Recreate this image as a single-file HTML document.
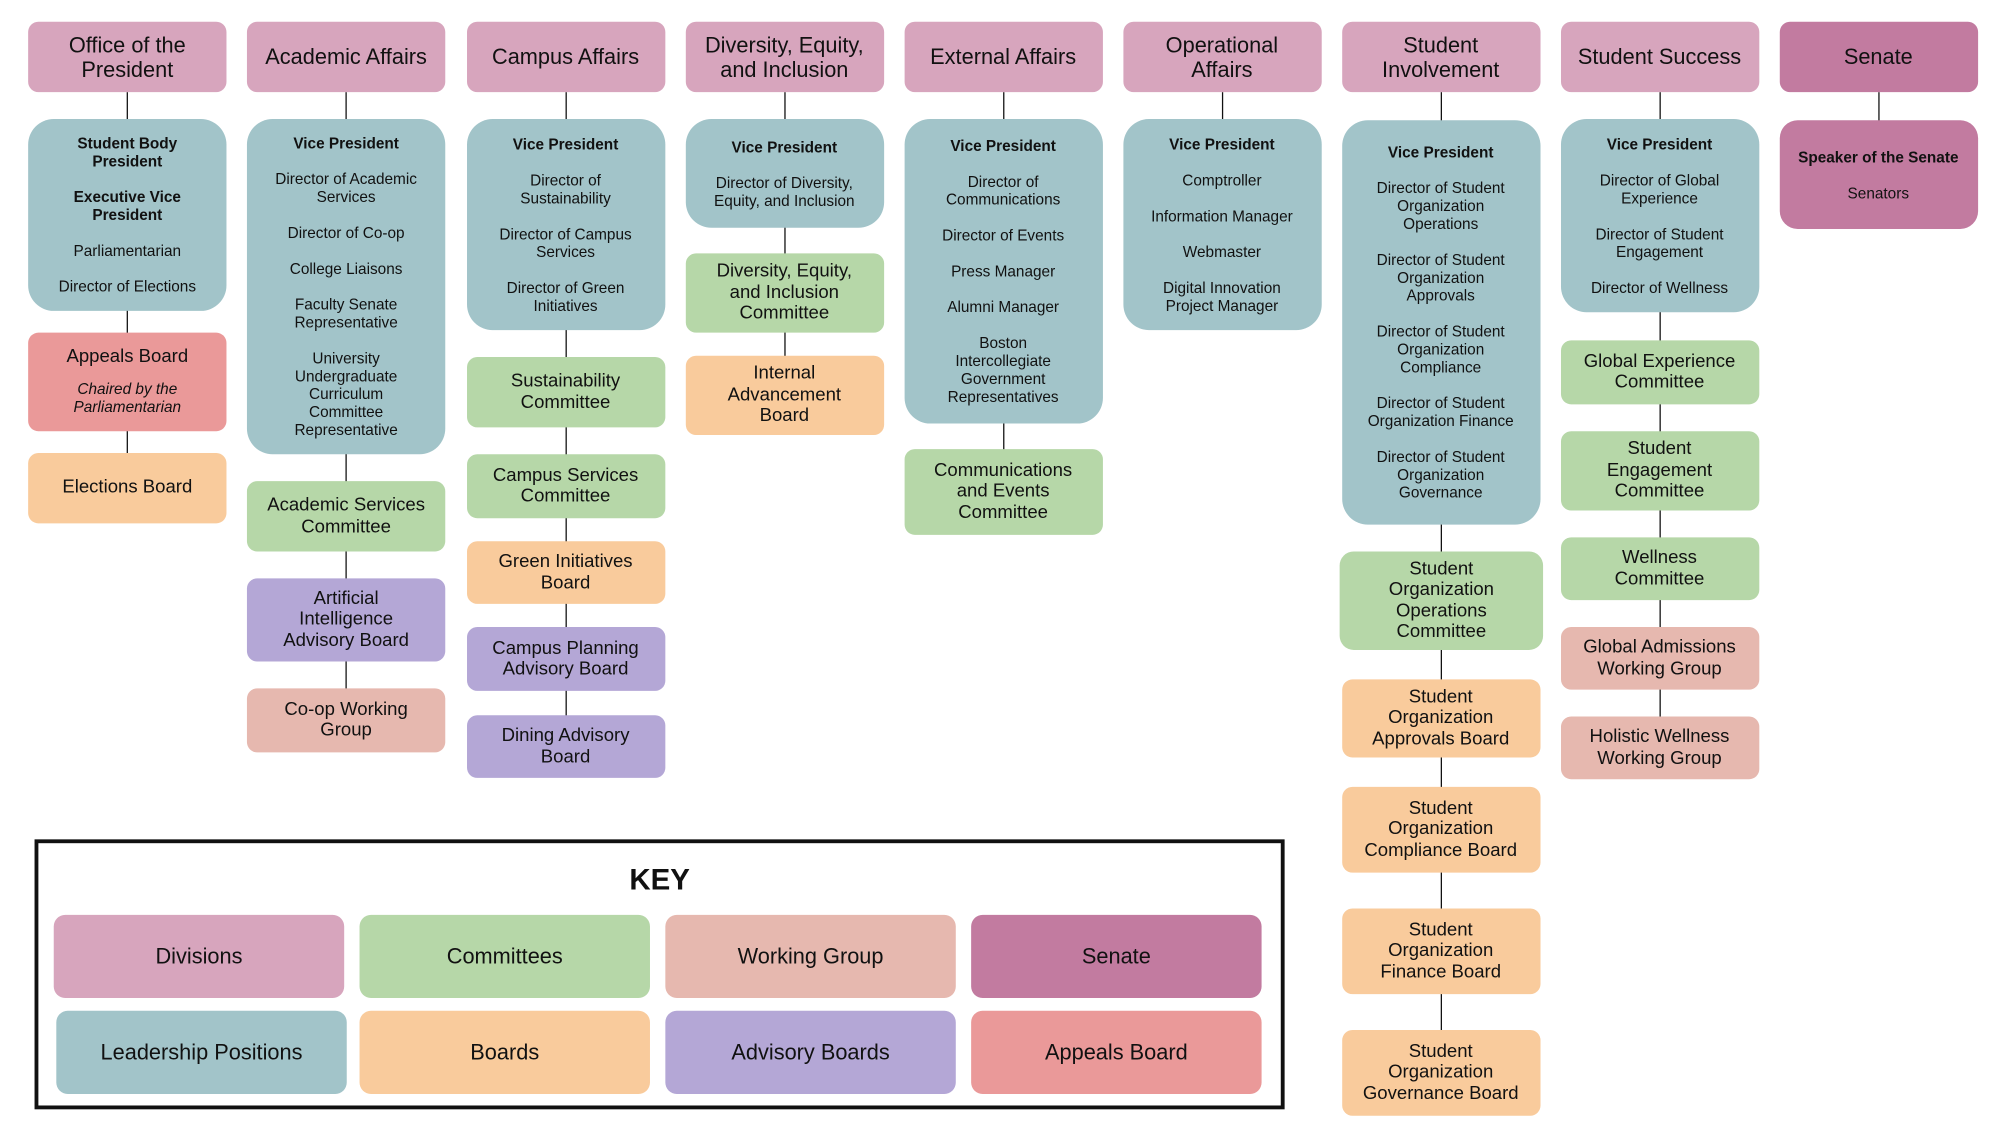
<!DOCTYPE html>
<html><head><meta charset="utf-8"><style>
html,body{margin:0;padding:0;background:#fff;}
body{width:2005px;height:1137px;overflow:hidden;position:relative;}
#c{position:absolute;left:0;top:0;width:1568px;height:889px;transform:scale(1.2795);transform-origin:0 0;font-family:"Liberation Sans","DejaVu Sans",sans-serif;color:#111;}
.b{position:absolute;width:155px;display:flex;align-items:center;justify-content:center;text-align:center;border-radius:8px;box-sizing:border-box;padding:0 4px;}
.h{background:#D7A5BD;font-size:17px;line-height:19px;}
.l{background:#A2C4C9;font-size:12px;line-height:14px;border-radius:20px;}
.cm{background:#B6D7A8;font-size:14.5px;line-height:16.5px;}
.bd{background:#F9CB9C;font-size:14.5px;line-height:16.5px;}
.wg{background:#E6B8AF;font-size:14.5px;line-height:16.5px;}
.ad{background:#B4A7D6;font-size:14.5px;line-height:16.5px;}
.sn{background:#C27BA0;}
.ap{background:#EA9999;font-size:14.5px;line-height:16.5px;}
.v{position:absolute;width:1px;background:#111;}
#key{position:absolute;left:27px;top:656px;width:977px;height:211px;border:3px solid #111;box-sizing:border-box;}
.k{position:absolute;width:227px;height:65px;border-radius:9px;display:flex;align-items:center;justify-content:center;font-size:17px;}
</style></head><body><div id="c">

<div class="v" style="left:99px;top:72px;height:288px"></div>
<div class="v" style="left:270px;top:72px;height:480px"></div>
<div class="v" style="left:442px;top:72px;height:500px"></div>
<div class="v" style="left:613px;top:72px;height:220px"></div>
<div class="v" style="left:784px;top:72px;height:300px"></div>
<div class="v" style="left:955px;top:72px;height:40px"></div>
<div class="v" style="left:1126px;top:72px;height:760px"></div>
<div class="v" style="left:1297px;top:72px;height:500px"></div>
<div class="v" style="left:1468px;top:72px;height:40px"></div>

<div class="b h" style="left:22px;top:17px;height:55px">Office of the<br>President</div>
<div class="b l" style="left:22px;top:93px;height:150px"><div><b>Student Body<br>President</b><br><br><b>Executive Vice<br>President</b><br><br>Parliamentarian<br><br>Director of Elections</div></div>
<div class="b ap" style="left:22px;top:260px;height:77px"><div>Appeals Board<br><span style="font-size:12px;line-height:14px;font-style:italic;display:inline-block;margin-top:10px">Chaired by the<br>Parliamentarian</span></div></div>
<div class="b bd" style="left:22px;top:354px;height:55px">Elections Board</div>

<div class="b h" style="left:193px;top:17px;height:55px">Academic Affairs</div>
<div class="b l" style="left:193px;top:93px;height:262px"><div><b>Vice President</b><br><br>Director of Academic<br>Services<br><br>Director of Co-op<br><br>College Liaisons<br><br>Faculty Senate<br>Representative<br><br>University<br>Undergraduate<br>Curriculum<br>Committee<br>Representative</div></div>
<div class="b cm" style="left:193px;top:376px;height:55px">Academic Services<br>Committee</div>
<div class="b ad" style="left:193px;top:452px;height:65px">Artificial<br>Intelligence<br>Advisory Board</div>
<div class="b wg" style="left:193px;top:538px;height:50px">Co-op Working<br>Group</div>

<div class="b h" style="left:364.5px;top:17px;height:55px">Campus Affairs</div>
<div class="b l" style="left:364.5px;top:93px;height:165px"><div><b>Vice President</b><br><br>Director of<br>Sustainability<br><br>Director of Campus<br>Services<br><br>Director of Green<br>Initiatives</div></div>
<div class="b cm" style="left:364.5px;top:279px;height:55px">Sustainability<br>Committee</div>
<div class="b cm" style="left:364.5px;top:355px;height:50px">Campus Services<br>Committee</div>
<div class="b bd" style="left:364.5px;top:423px;height:49px">Green Initiatives<br>Board</div>
<div class="b ad" style="left:364.5px;top:490px;height:50px">Campus Planning<br>Advisory Board</div>
<div class="b ad" style="left:364.5px;top:559px;height:49px">Dining Advisory<br>Board</div>

<div class="b h" style="left:535.5px;top:17px;height:55px">Diversity, Equity,<br>and Inclusion</div>
<div class="b l" style="left:535.5px;top:93px;height:85px"><div><b>Vice President</b><br><br>Director of Diversity,<br>Equity, and Inclusion</div></div>
<div class="b cm" style="left:535.5px;top:198px;height:62px">Diversity, Equity,<br>and Inclusion<br>Committee</div>
<div class="b bd" style="left:535.5px;top:278px;height:62px">Internal<br>Advancement<br>Board</div>

<div class="b h" style="left:706.5px;top:17px;height:55px">External Affairs</div>
<div class="b l" style="left:706.5px;top:93px;height:238px"><div><b>Vice President</b><br><br>Director of<br>Communications<br><br>Director of Events<br><br>Press Manager<br><br>Alumni Manager<br><br>Boston<br>Intercollegiate<br>Government<br>Representatives</div></div>
<div class="b cm" style="left:706.5px;top:351px;height:67px">Communications<br>and Events<br>Committee</div>

<div class="b h" style="left:877.5px;top:17px;height:55px">Operational<br>Affairs</div>
<div class="b l" style="left:877.5px;top:93px;height:165px"><div><b>Vice President</b><br><br>Comptroller<br><br>Information Manager<br><br>Webmaster<br><br>Digital Innovation<br>Project Manager</div></div>

<div class="b h" style="left:1048.5px;top:17px;height:55px">Student<br>Involvement</div>
<div class="b l" style="left:1048.5px;top:94px;height:316px"><div><b>Vice President</b><br><br>Director of Student<br>Organization<br>Operations<br><br>Director of Student<br>Organization<br>Approvals<br><br>Director of Student<br>Organization<br>Compliance<br><br>Director of Student<br>Organization Finance<br><br>Director of Student<br>Organization<br>Governance</div></div>
<div class="b cm" style="left:1047px;top:431px;width:159px;height:77px;border-radius:11px">Student<br>Organization<br>Operations<br>Committee</div>
<div class="b bd" style="left:1048.5px;top:531px;height:61px">Student<br>Organization<br>Approvals Board</div>
<div class="b bd" style="left:1048.5px;top:615px;height:67px">Student<br>Organization<br>Compliance Board</div>
<div class="b bd" style="left:1048.5px;top:710px;height:67px">Student<br>Organization<br>Finance Board</div>
<div class="b bd" style="left:1048.5px;top:805px;height:67px">Student<br>Organization<br>Governance Board</div>

<div class="b h" style="left:1219.5px;top:17px;height:55px">Student Success</div>
<div class="b l" style="left:1219.5px;top:93px;height:151px"><div><b>Vice President</b><br><br>Director of Global<br>Experience<br><br>Director of Student<br>Engagement<br><br>Director of Wellness</div></div>
<div class="b cm" style="left:1219.5px;top:266px;height:50px">Global Experience<br>Committee</div>
<div class="b cm" style="left:1219.5px;top:337px;height:62px">Student<br>Engagement<br>Committee</div>
<div class="b cm" style="left:1219.5px;top:420px;height:49px">Wellness<br>Committee</div>
<div class="b wg" style="left:1219.5px;top:490px;height:49px">Global Admissions<br>Working Group</div>
<div class="b wg" style="left:1219.5px;top:560px;height:49px">Holistic Wellness<br>Working Group</div>

<div class="b h sn" style="left:1390.5px;top:17px;height:55px">Senate</div>
<div class="b l sn" style="left:1390.5px;top:94px;height:85px;border-radius:14px"><div><b>Speaker of the Senate</b><br><br>Senators</div></div>

<div id="key"></div>
<div style="position:absolute;left:27px;width:977px;top:674px;text-align:center;font-size:23px;font-weight:bold;">KEY</div>
<div class="k" style="left:42px;top:715px;background:#D7A5BD">Divisions</div>
<div class="k" style="left:281px;top:715px;background:#B6D7A8">Committees</div>
<div class="k" style="left:520px;top:715px;background:#E6B8AF">Working Group</div>
<div class="k" style="left:759px;top:715px;background:#C27BA0">Senate</div>
<div class="k" style="left:44px;top:790px;background:#A2C4C9">Leadership Positions</div>
<div class="k" style="left:281px;top:790px;background:#F9CB9C">Boards</div>
<div class="k" style="left:520px;top:790px;background:#B4A7D6">Advisory Boards</div>
<div class="k" style="left:759px;top:790px;background:#EA9999">Appeals Board</div>

</div></body></html>
